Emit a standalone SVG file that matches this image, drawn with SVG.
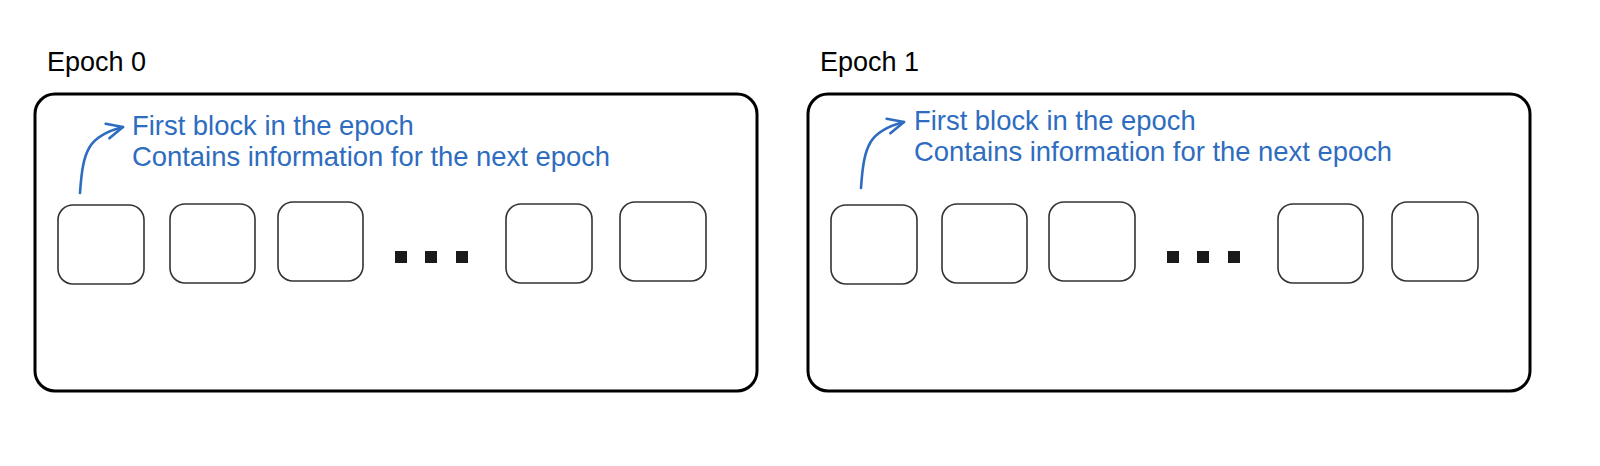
<svg xmlns="http://www.w3.org/2000/svg" width="1600" height="466" viewBox="0 0 1600 466">
  <defs>
    <style>
      .title { font-family: "Liberation Sans", Arial, sans-serif; font-size: 27px; fill: #000; }
      .note { font-family: "Liberation Sans", Arial, sans-serif; font-size: 27.4px; fill: #2e6cc0; }
      .epoch { fill: #fff; stroke: #000; stroke-width: 3; }
      .block { fill: #fff; stroke: #333; stroke-width: 1.6; }
      .dot { fill: #1a1a1a; }
      .arrow { fill: none; stroke: #2e6cc0; stroke-width: 2.6; stroke-linecap: round; }
    </style>
    <marker id="open" markerUnits="userSpaceOnUse" viewBox="-20 -12 24 24" markerWidth="24" markerHeight="24" refX="0" refY="0" orient="auto">
      <path d="M-16,-7.5 L0,0 L-16,7.5" fill="none" stroke="#2e6cc0" stroke-width="2.6" stroke-linecap="round" stroke-linejoin="round"/>
    </marker>
  </defs>
  <rect width="1600" height="466" fill="#fff"/>

  <g id="epoch0">
    <text class="title" x="47" y="71">Epoch 0</text>
    <rect class="epoch" x="35" y="94" width="722" height="297" rx="20"/>
    <text class="note" x="132" y="135">First block in the epoch</text>
    <text class="note" x="132" y="166">Contains information for the next epoch</text>
  </g>
  <g id="e0-b1"><rect class="block" x="58" y="205" width="86" height="79" rx="15"/></g>
  <g id="e0-b2"><rect class="block" x="170" y="204" width="85" height="79" rx="15"/></g>
  <g id="e0-b3"><rect class="block" x="278" y="202" width="85" height="79" rx="15"/></g>
  <g id="e0-dots">
    <rect class="dot" x="395" y="251" width="12" height="12"/>
    <rect class="dot" x="425" y="251" width="12" height="12"/>
    <rect class="dot" x="456" y="251" width="12" height="12"/>
  </g>
  <g id="e0-b4"><rect class="block" x="506" y="204" width="86" height="79" rx="15"/></g>
  <g id="e0-b5"><rect class="block" x="620" y="202" width="86" height="79" rx="15"/></g>

  <g id="epoch1">
    <text class="title" x="820" y="71">Epoch 1</text>
    <rect class="epoch" x="808" y="94" width="722" height="297" rx="20"/>
    <text class="note" x="914" y="130">First block in the epoch</text>
    <text class="note" x="914" y="161">Contains information for the next epoch</text>
  </g>
  <g id="e1-b1"><rect class="block" x="831" y="205" width="86" height="79" rx="15"/></g>
  <g id="e1-b2"><rect class="block" x="942" y="204" width="85" height="79" rx="15"/></g>
  <g id="e1-b3"><rect class="block" x="1049" y="202" width="86" height="79" rx="15"/></g>
  <g id="e1-dots">
    <rect class="dot" x="1167" y="251" width="12" height="12"/>
    <rect class="dot" x="1197" y="251" width="12" height="12"/>
    <rect class="dot" x="1228" y="251" width="12" height="12"/>
  </g>
  <g id="e1-b4"><rect class="block" x="1278" y="204" width="85" height="79" rx="15"/></g>
  <g id="e1-b5"><rect class="block" x="1392" y="202" width="86" height="79" rx="15"/></g>

  <g id="connectors">
    <path class="arrow" d="M80,193 C83,150 88,136 123,127" marker-end="url(#open)"/>
    <path class="arrow" d="M861,188 C864,145 869,131 904,122" marker-end="url(#open)"/>
  </g>
</svg>
